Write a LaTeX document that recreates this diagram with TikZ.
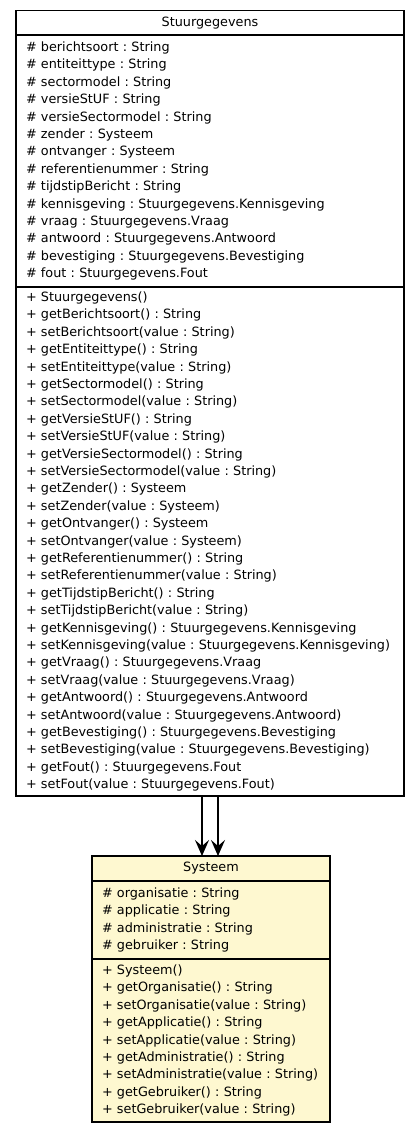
\documentclass[tikz,border=0pt]{standalone}
\usepackage{fontspec}
\setmainfont{DejaVu Sans}
\usepackage{xcolor}
\usetikzlibrary{arrows.meta}
\definecolor{sysfill}{HTML}{FEF8D0}

\begin{document}
\frenchspacing
\begin{tikzpicture}[x=1pt, y=1pt,
        font=\fontsize{12.8}{17.4}\selectfont,
        umlbox/.style={draw, rectangle, anchor=north, outer sep=0pt, inner xsep=10pt, inner ysep=0pt, line width=1.2pt, align=left},
        umltitle/.style={umlbox, align=center},
        assoc/.style={-{Stealth[length=16pt, width=14pt, inset=6pt]}, line width=1.2pt}]
        \useasboundingbox (0,0) rectangle (420,-1133);

        % Stuurgegevens
        \node (stuurTitle) at (210,  -10.7) [umltitle, text width=368pt, minimum height=24.3pt] {Stuurgegevens};
        \node (stuurAttr)  at (210,  -35.0) [umlbox, text width=368pt, minimum height=252pt] {\# berichtsoort : String\\
\# entiteittype : String\\
\# sectormodel : String\\
\# versieStUF : String\\
\# versieSectormodel : String\\
\# zender : Systeem\\
\# ontvanger : Systeem\\
\# referentienummer : String\\
\# tijdstipBericht : String\\
\# kennisgeving : Stuurgegevens.Kennisgeving\\
\# vraag : Stuurgegevens.Vraag\\
\# antwoord : Stuurgegevens.Antwoord\\
\# bevestiging : Stuurgegevens.Bevestiging\\
\# fout : Stuurgegevens.Fout};
        \node (stuurOps)   at (210, -287.0) [umlbox, text width=368pt, minimum height=509pt] {+ Stuurgegevens()\\
+ getBerichtsoort() : String\\
+ setBerichtsoort(value : String)\\
+ getEntiteittype() : String\\
+ setEntiteittype(value : String)\\
+ getSectormodel() : String\\
+ setSectormodel(value : String)\\
+ getVersieStUF() : String\\
+ setVersieStUF(value : String)\\
+ getVersieSectormodel() : String\\
+ setVersieSectormodel(value : String)\\
+ getZender() : Systeem\\
+ setZender(value : Systeem)\\
+ getOntvanger() : Systeem\\
+ setOntvanger(value : Systeem)\\
+ getReferentienummer() : String\\
+ setReferentienummer(value : String)\\
+ getTijdstipBericht() : String\\
+ setTijdstipBericht(value : String)\\
+ getKennisgeving() : Stuurgegevens.Kennisgeving\\
+ setKennisgeving(value : Stuurgegevens.Kennisgeving)\\
+ getVraag() : Stuurgegevens.Vraag\\
+ setVraag(value : Stuurgegevens.Vraag)\\
+ getAntwoord() : Stuurgegevens.Antwoord\\
+ setAntwoord(value : Stuurgegevens.Antwoord)\\
+ getBevestiging() : Stuurgegevens.Bevestiging\\
+ setBevestiging(value : Stuurgegevens.Bevestiging)\\
+ getFout() : Stuurgegevens.Fout\\
+ setFout(value : Stuurgegevens.Fout)};

        % Systeem
        \node (sysTitle) at (211, -856) [umltitle, fill=sysfill, text width=218pt, minimum height=25pt] {Systeem};
        \node (sysAttr)  at (211, -881) [umlbox, fill=sysfill, text width=218pt, minimum height=78pt] {\# organisatie : String\\
\# applicatie : String\\
\# administratie : String\\
\# gebruiker : String};
        \node (sysOps)   at (211, -959) [umlbox, fill=sysfill, text width=218pt, minimum height=163pt] {+ Systeem()\\
+ getOrganisatie() : String\\
+ setOrganisatie(value : String)\\
+ getApplicatie() : String\\
+ setApplicatie(value : String)\\
+ getAdministratie() : String\\
+ setAdministratie(value : String)\\
+ getGebruiker() : String\\
+ setGebruiker(value : String)};

        \draw[assoc] ([xshift=-8pt]stuurOps.south) -- ([xshift=-8pt]stuurOps.south |- sysTitle.north);
        \draw[assoc] ([xshift=8pt]stuurOps.south) -- ([xshift=8pt]stuurOps.south |- sysTitle.north);
    \end{tikzpicture}
\end{document}
